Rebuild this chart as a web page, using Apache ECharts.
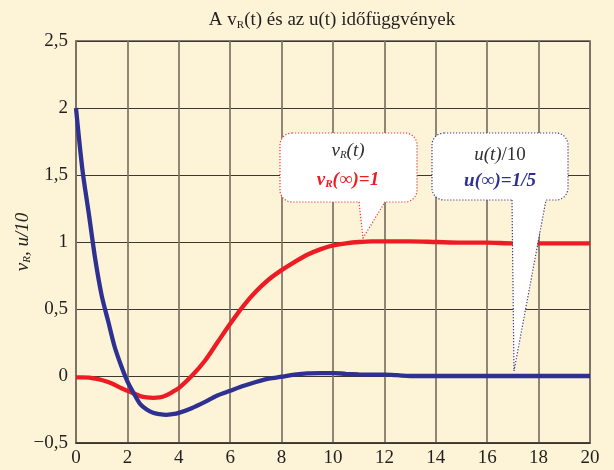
<!DOCTYPE html>
<html>
<head>
<meta charset="utf-8">
<script src="https://cdn.jsdelivr.net/npm/echarts@6/dist/echarts.min.js"></script>
<style>
html,body{margin:0;padding:0;background:#FDF3D6;}
#c{width:614px;height:470px;}
</style>
</head>
<body>
<div id="c"></div>
<script>
// time values (s)
var tVals = [0,0.25,0.5,0.75,1,1.25,1.5,1.75,2,2.25,2.5,2.75,3,3.25,3.5,3.75,4,4.5,5,5.5,6,6.5,7,7.5,8,8.5,9,9.5,10,10.5,11,11.5,12,12.5,13,14,15,16,17,18,19,20];
// v_R(t)
var vR = [-0.01,-0.01,-0.012,-0.02,-0.03,-0.045,-0.065,-0.09,-0.11,-0.13,-0.15,-0.16,-0.163,-0.16,-0.145,-0.12,-0.09,0.0,0.11,0.25,0.39,0.52,0.63,0.72,0.79,0.85,0.905,0.945,0.975,0.99,1.0,1.005,1.005,1.005,1.005,1.0,0.995,0.995,0.99,0.99,0.99,0.99];
// u(t)/10
var u10 = [2.0,1.54,1.21,0.87,0.6,0.41,0.22,0.08,-0.04,-0.13,-0.21,-0.25,-0.275,-0.285,-0.29,-0.285,-0.275,-0.24,-0.195,-0.145,-0.11,-0.075,-0.045,-0.02,-0.005,0.01,0.02,0.022,0.022,0.016,0.012,0.01,0.01,0.006,0.0,0.0,0.0,0.0,0.0,0.0,0.0,0.0];
var yTickLabels = {"-0.5":"\u22120,5","0":"0","0.5":"0,5","1":"1","1.5":"1,5","2":"2","2.5":"2,5"};

var serif = '"Liberation Serif","Times New Roman",serif';
var chart = echarts.init(document.getElementById('c'), null, {renderer:'canvas'});
function pairs(ys){ return tVals.map(function(t,i){ return [t, ys[i]]; }); }

function callout(box, tail, color){
  var dash = [1.2,1.8];
  return [
    {type:'rect', z:100, shape:{x:box[0], y:box[1], width:box[2]-box[0], height:box[3]-box[1], r:12},
      style:{fill:'#ffffff', stroke:color, lineWidth:1.2, lineDash:dash}},
    {type:'polygon', z:101, shape:{points:[[tail[0][0]+1, box[3]-3],[tail[2][0]-1, box[3]-3],[tail[2][0]-0.5, box[3]],[tail[1][0], tail[1][1]],[tail[0][0]+0.5, box[3]]]},
      style:{fill:'#ffffff', stroke:null}},
    {type:'polyline', z:102, shape:{points:tail},
      style:{fill:null, stroke:color, lineWidth:1.2, lineDash:dash}}
  ];
}

var graphics = []
  .concat(callout([280,133,417,202], [[359,202],[363,238],[385,202]], '#EE3B45'))
  .concat(callout([432,133,568,200], [[512,200],[514,371],[546,200]], '#3A3D96'))
  .concat([
    {type:'text', z:110, style:{x:348, y:151, text:'{i|v}{s|R}{i|(t)}', textAlign:'center', textVerticalAlign:'middle',
      rich:{i:{fontFamily:serif,fontStyle:'italic',fontSize:19,fill:'#2f2f2f'}, s:{fontFamily:serif,fontStyle:'italic',fontSize:11,fill:'#2f2f2f',verticalAlign:'bottom',padding:[9,0,0,0]}}}},
    {type:'text', z:110, style:{x:348, y:180, text:'{i|v}{s|R}{i|(\u221e)=1}', textAlign:'center', textVerticalAlign:'middle',
      rich:{i:{fontFamily:serif,fontStyle:'italic',fontWeight:'bold',fontSize:19,fill:'#ED1C24'}, s:{fontFamily:serif,fontStyle:'italic',fontWeight:'bold',fontSize:11,fill:'#ED1C24',verticalAlign:'bottom',padding:[9,0,0,0]}}}},
    {type:'text', z:110, style:{x:500, y:155, text:'{i|u(t)}{n|/10}', textAlign:'center', textVerticalAlign:'middle',
      rich:{i:{fontFamily:serif,fontStyle:'italic',fontSize:19,fill:'#2f2f2f'}, n:{fontFamily:serif,fontSize:19,fill:'#2f2f2f'}}}},
    {type:'text', z:110, style:{x:500, y:181, text:'u(\u221e)=1/5', textAlign:'center', textVerticalAlign:'middle',
      font:'italic bold 19px '+serif, fill:'#2E3192'}}
  ]);

var option = {
  backgroundColor:'#FDF3D6',
  animation:false,
  title:{
    text:'A v{s|R}(t) és az u(t) időfüggvények',
    left:327, textAlign:'center', top:5,
    textStyle:{fontFamily:serif,fontSize:19,fontWeight:'normal',color:'#231F20',
      rich:{s:{fontFamily:serif,fontSize:11,color:'#231F20',verticalAlign:'bottom',padding:[10,0,0,0]}}}
  },
  grid:{left:76, top:41, width:514, height:402, show:true, borderColor:'#5c544a', borderWidth:1.5, backgroundColor:'transparent'},
  xAxis:{
    type:'value', min:0, max:20, interval:2,
    axisLine:{onZero:false, lineStyle:{color:'#3a342e', width:1.5}},
    axisTick:{show:false},
    splitLine:{show:true, lineStyle:{color:'#7d7365', width:1.7}},
    axisLabel:{fontFamily:serif, fontSize:19, color:'#231F20', margin:6}
  },
  yAxis:{
    type:'value', min:-0.5, max:2.5, interval:0.5,
    axisLine:{show:true, lineStyle:{color:'#7d7365', width:1.7}},
    axisTick:{show:false},
    splitLine:{show:true, lineStyle:{color:'#3d3731', width:1.2}},
    axisLabel:{fontFamily:serif, fontSize:19, color:'#231F20', margin:8,
      formatter:function(v){ var k=String(Math.round(v*10)/10); return yTickLabels[k]!==undefined?yTickLabels[k]:k; }},
    name:'{i|v}{s|R}{i|, u/10}',
    nameLocation:'middle', nameGap:43, nameRotate:90, nameMoveOverlap:false,
    nameTextStyle:{rich:{
      i:{fontFamily:serif,fontStyle:'italic',fontSize:19,color:'#231F20'},
      s:{fontFamily:serif,fontStyle:'italic',fontSize:11,color:'#231F20',verticalAlign:'bottom',padding:[9,0,0,0]}
    }}
  },
  series:[
    {type:'line', data:pairs(vR), showSymbol:false, smooth:0.3, lineStyle:{color:'#ED1C24', width:4.3}, z:3},
    {type:'line', data:pairs(u10), showSymbol:false, smooth:0.3, lineStyle:{color:'#2E3192', width:4.3}, z:4}
  ],
  graphic:graphics
};
chart.setOption(option);
</script>
</body>
</html>
